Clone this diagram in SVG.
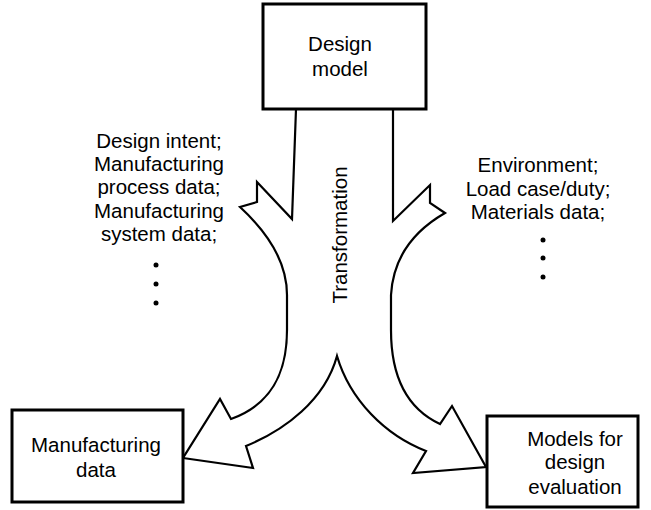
<svg xmlns="http://www.w3.org/2000/svg" width="651" height="510" viewBox="0 0 651 510">
<style>
.box{fill:#fff;stroke:#000;stroke-width:3}
.arrow{fill:none;stroke:#000;stroke-width:2.2;stroke-linejoin:miter}
text{font-family:"Liberation Sans",Arial,sans-serif;font-size:20.5px;fill:#000;text-anchor:middle}
.dot{fill:#000}
</style>
<rect width="651" height="510" fill="#fff"/>
<g id="connectors">
<path class="arrow" d="M296,109 L292,219 L257,182 L257,202 L240,207 C265,230 287,260 287,295 L287,330 C287,375 270,405 231,419 L220,399 L183,458 L253,468 L246,446 C285,430 325,400 337,356 C350,400 385,435 426,451 L413,473 L486,467 L452,406 L440,424 C410,410 391,380 391,330 L391,295 C393,260 412,232 445,213 L430,203 L430,185 L393,221 L393,109"/>
<text transform="translate(347,235) rotate(-90)">Transformation</text>
</g>
<g id="design-model">
<rect class="box" x="263" y="4" width="163" height="105"/>
<text x="340" y="51">Design</text>
<text x="340" y="76">model</text>
</g>
<g id="manufacturing-data">
<rect class="box" x="12" y="410" width="171" height="92"/>
<text x="96" y="452">Manufacturing</text>
<text x="96" y="477">data</text>
</g>
<g id="models-for-design-evaluation">
<rect class="box" x="487" y="416" width="151" height="91"/>
<text x="575" y="446">Models for</text>
<text x="575" y="469">design</text>
<text x="575" y="494">evaluation</text>
</g>
<g id="left-label">
<text x="159" y="148">Design intent;</text>
<text x="159" y="171">Manufacturing</text>
<text x="159" y="194">process data;</text>
<text x="159" y="218">Manufacturing</text>
<text x="159" y="241">system data;</text>
<circle class="dot" cx="156" cy="265" r="2.5"/>
<circle class="dot" cx="156" cy="284" r="2.5"/>
<circle class="dot" cx="156" cy="303" r="2.5"/>
</g>
<g id="right-label">
<text x="538" y="172">Environment;</text>
<text x="538" y="196">Load case/duty;</text>
<text x="538" y="219">Materials data;</text>
<circle class="dot" cx="543" cy="240" r="2.5"/>
<circle class="dot" cx="543" cy="258" r="2.5"/>
<circle class="dot" cx="543" cy="277" r="2.5"/>
</g>
</svg>
